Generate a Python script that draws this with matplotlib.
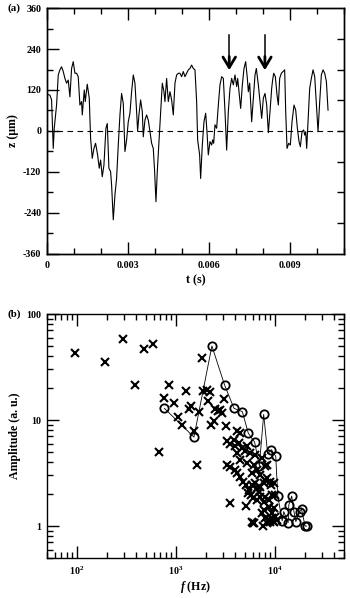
import numpy as np
import matplotlib
matplotlib.use("Agg")
import matplotlib.pyplot as plt
from matplotlib.ticker import MultipleLocator, FixedLocator, LogLocator, NullFormatter, FuncFormatter

plt.rcParams["font.family"] = ["Liberation Serif", "DejaVu Serif"]
plt.rcParams["font.weight"] = "bold"
plt.rcParams["axes.labelweight"] = "bold"
plt.rcParams["axes.unicode_minus"] = False
plt.rcParams["mathtext.fontset"] = "custom"
plt.rcParams["mathtext.rm"] = "Liberation Serif:bold"
plt.rcParams["mathtext.bf"] = "Liberation Serif:bold"
plt.rcParams["mathtext.it"] = "Liberation Serif:italic:bold"

# ---- (a) surface height record ----
t_ms = [0.025, 0.111, 0.173, 0.235, 0.272, 0.358, 0.420, 0.481, 0.543, 0.605,
        0.667, 0.728, 0.790, 0.852, 0.914, 0.975, 1.037, 1.099, 1.160, 1.222,
        1.284, 1.309, 1.383, 1.420, 1.494, 1.568, 1.617, 1.679, 1.741, 1.802,
        1.877, 1.938, 1.988, 2.049, 2.111, 2.185, 2.235, 2.296, 2.358, 2.395,
        2.457, 2.519, 2.580, 2.642, 2.704, 2.765, 2.827, 2.889, 2.951, 3.012,
        3.074, 3.136, 3.198, 3.259, 3.321, 3.358, 3.407, 3.469, 3.531, 3.568,
        3.630, 3.691, 3.753, 3.815, 3.877, 3.938, 3.988, 4.037, 4.086, 4.148,
        4.210, 4.272, 4.333, 4.370, 4.432, 4.494, 4.556, 4.617, 4.679, 4.741,
        4.802, 4.864, 4.926, 4.988, 5.049, 5.111, 5.173, 5.235, 5.296, 5.358,
        5.420, 5.481, 5.543, 5.580, 5.654, 5.691, 5.753, 5.815, 5.877, 5.926,
        5.975, 6.037, 6.099, 6.136, 6.173, 6.222, 6.284, 6.346, 6.407, 6.469,
        6.531, 6.593, 6.654, 6.716, 6.778, 6.840, 6.901, 6.963, 7.025, 7.062,
        7.111, 7.173, 7.235, 7.296, 7.358, 7.420, 7.457, 7.506, 7.580, 7.642,
        7.704, 7.753, 7.827, 7.889, 7.951, 8.012, 8.074, 8.136, 8.198, 8.259,
        8.321, 8.358, 8.395, 8.457, 8.519, 8.568, 8.617, 8.679, 8.741, 8.802,
        8.840, 8.889, 8.951, 9.012, 9.074, 9.148, 9.210, 9.272, 9.333, 9.383,
        9.444, 9.506, 9.543, 9.580, 9.617, 9.667, 9.728, 9.790, 9.852, 9.914,
        9.975, 10.037, 10.099, 10.160, 10.222, 10.284, 10.346, 10.407]
z_um = [107, 105, 91, -51, 8, 76, 164, 179, 188, 174,
        154, 140, 149, 100, 183, 203, 169, 169, 159, 76,
        86, 47, 120, 86, 137, 96, -21, -80, -51, -36,
        -70, -109, -85, -134, -100, 8, 22, -109, -119, -158,
        -260, -187, -139, -41, 47, 110, 81, -60, -26, 27,
        52, 115, 164, 140, 57, 0, 47, 91, 57, -17,
        32, 47, 32, -2, -36, -51, -119, -207, -119, -31,
        57, 140, 115, 86, 154, 86, 115, 91, 47, 140,
        164, 169, 169, 159, 174, 159, 169, 179, 183, 193,
        183, 179, 86, -26, -70, -139, -41, 27, 52, -2,
        -70, -31, -41, -26, -36, 18, 8, 76, 135, 159,
        154, 57, -56, 57, 125, 154, 135, 164, 130, 154,
        115, 66, 135, 183, 203, 154, 115, 140, 27, 96,
        164, 183, 135, 86, 37, 96, 110, 76, -5, 57,
        125, 150, 169, 159, 105, 76, 154, 169, 174, 179,
        57, -51, -36, -41, 27, 76, 61, 8, -31, -46,
        -2, 3, -12, -2, -51, 27, 125, 154, 179, 159,
        81, -2, 86, 164, 179, 169, 145, 61]
arrow_t_ms = [6.75, 8.07]
arrow_top_um = 282
arrow_tip_um = 178

# ---- (b) spectral amplitudes ----
cross_f = [97, 192, 290, 387, 481, 585, 678, 760, 861, 961,
           1062, 1150, 1282, 1365, 1430, 1525, 1644, 1722, 1834, 1905,
           2057, 2223, 2140, 2265, 2405, 2500, 2650, 2800, 2925, 3090,
           3236, 3290, 3550, 3840, 3965, 4300, 4120, 4480, 4660, 5040,
           5240, 5660, 6350, 7430, 8040, 8360, 6620, 5890, 7150, 4480,
           5240, 6100, 4120, 3290, 3550, 3965, 4120, 4400, 4810, 5150,
           5440, 5310, 5750, 6030, 6620, 7150, 6870, 7720, 8040, 8880,
           8360, 9160, 6620, 7150, 9750, 6350, 9380, 5890, 7720, 8680,
           8040, 3550, 5140, 6000, 6200, 7620, 8800, 9600, 8040, 8680,
           9380, 9010, 9750, 10140, 10540, 8360, 7430, 7720, 5890, 8680,
           9750, 9380, 10140]
cross_amp = [42.7, 35.6, 58, 21.4, 46.6, 52, 5.0, 16.1, 21.4, 14.5,
             10.7, 8.9, 18.8, 12.8, 13.7, 7.8, 3.8, 11.8, 38.8, 18.8,
             19.2, 18.4, 15.1, 8.9, 9.9, 12.6, 12.2, 12.4, 11.7, 15.9,
             8.8, 6.3, 5.9, 6.5, 5.65, 6.1, 7.8, 7.6, 5.45, 5.1,
             5.65, 4.9, 4.7, 4.4, 3.65, 3.8, 3.4, 3.15, 3.05, 4.2,
             3.9, 3.8, 4.9, 3.8, 3.6, 3.4, 3.16, 2.93, 2.63, 2.45,
             2.19, 2.04, 1.97, 1.83, 1.76, 1.90, 2.11, 2.54, 2.73, 2.63,
             2.83, 2.45, 2.28, 2.36, 2.54, 2.54, 1.97, 2.45, 1.70, 1.76,
             1.90, 1.64, 1.56, 1.08, 1.06, 1.0, 1.13, 1.12, 1.18, 1.14,
             1.18, 1.10, 1.10, 1.22, 1.14, 1.06, 1.32, 1.42, 1.10, 1.52,
             1.47, 1.32, 1.97]
circle_f = [768, 1525, 2317, 3110, 3870, 4700, 5400, 6250, 6980, 7720,
            8470, 9245, 10220, 10700, 11860, 12300, 13640, 13850, 14800, 15600,
            16300, 17800, 18600, 20200, 21000]
circle_amp = [12.9, 6.9, 50, 21.4, 12.9, 12.0, 7.5, 6.2, 3.7, 11.3,
              4.8, 5.25, 4.54, 1.94, 1.12, 1.37, 1.08, 1.58, 1.92, 1.37,
              1.10, 1.36, 1.45, 1.0, 1.0]

fig = plt.figure(figsize=(3.5, 5.98), dpi=100)
ax1 = fig.add_axes([0.134, 0.5753, 0.849, 0.4113])
ax2 = fig.add_axes([0.134, 0.0669, 0.849, 0.4080])

tick_fs = 7.2
label_fs = 8.6

# ---------- panel (a) ----------
t_s = np.array(t_ms) * 1e-3
ax1.plot(t_s, z_um, color="black", lw=0.8)
ax1.axhline(0, color="black", lw=0.8, ls=(0, (5, 4)))
for ta in arrow_t_ms:
    xa = ta * 1e-3
    ax1.plot([xa, xa], [arrow_top_um, arrow_tip_um + 10], color="black", lw=1.1)
    ax1.annotate("", xy=(xa, arrow_tip_um), xytext=(xa, arrow_tip_um + 40),
                 arrowprops=dict(arrowstyle="->,head_length=0.75,head_width=0.45",
                                 lw=2.0, color="black", shrinkA=0, shrinkB=0))

ax1.set_xlim(0, 0.011)
ax1.set_ylim(-360, 360)
ax1.xaxis.set_major_locator(MultipleLocator(0.003))
ax1.xaxis.set_minor_locator(MultipleLocator(0.001))
ax1.xaxis.set_major_formatter(FuncFormatter(lambda v, p: "0" if abs(v) < 1e-9 else f"{v:.3f}"))
ax1.yaxis.set_major_locator(MultipleLocator(120))
ax1.yaxis.set_minor_locator(MultipleLocator(60))
ax1.tick_params(which="both", direction="in", top=True, right=False,
                labelsize=tick_fs, width=1.0)
ax1.tick_params(which="major", length=8.5, pad=4)
ax1.tick_params(which="minor", length=4.5)
ax1.tick_params(axis="x", which="major", pad=5)
ax1.set_xlabel("t (s)", fontsize=label_fs, labelpad=3)
ax1.set_ylabel("z (\u03bcm)", fontsize=label_fs, labelpad=3)

ax1r = ax1.twinx()
ax1r.set_ylim(-360, 360)
ax1r.yaxis.set_major_locator(FixedLocator([-270, -180, -90, 0, 90, 180, 270]))
ax1r.tick_params(direction="in", length=5, width=1.0, labelright=False)
for a in (ax1, ax1r):
    for s in a.spines.values():
        s.set_linewidth(1.0)

fig.text(0.02, ax1.get_position().y1, "(a)", fontsize=tick_fs + 0.6,
         ha="left", va="center", weight="bold")

# ---------- panel (b) ----------
ax2.plot(circle_f, circle_amp, color="black", lw=0.6, marker="o", ms=6.0,
         mfc="none", mec="black", mew=1.3)
ax2.plot(cross_f, cross_amp, ls="none", marker="x", ms=5.8, mec="black", mew=1.5)

ax2.set_xscale("log")
ax2.set_yscale("log")
ax2.set_xlim(50, 50000)
ax2.set_ylim(0.5, 100)
ax2.xaxis.set_major_locator(LogLocator(base=10, numticks=10))
ax2.xaxis.set_minor_locator(LogLocator(base=10, subs=np.arange(2, 10), numticks=20))
ax2.xaxis.set_major_formatter(FuncFormatter(lambda v, p: r"$10^{%d}$" % round(np.log10(v))))
ax2.xaxis.set_minor_formatter(NullFormatter())
ax2.yaxis.set_major_locator(LogLocator(base=10, numticks=10))
ax2.yaxis.set_minor_locator(LogLocator(base=10, subs=np.arange(2, 10), numticks=20))
ax2.yaxis.set_major_formatter(FuncFormatter(lambda v, p: "%g" % v))
ax2.yaxis.set_minor_formatter(NullFormatter())
ax2.tick_params(which="both", direction="in", top=True, right=True,
                labelsize=tick_fs, width=1.0)
ax2.tick_params(which="major", length=8.5, pad=4)
ax2.tick_params(which="minor", length=4.5)
ax2.tick_params(axis="x", which="major", pad=5)
for s in ax2.spines.values():
    s.set_linewidth(1.0)
ax2.set_xlabel(r"$f$ (Hz)", fontsize=label_fs, labelpad=1.5)
ax2.set_ylabel("Amplitude (a. u.)", fontsize=label_fs, labelpad=4)

fig.text(0.02, ax2.get_position().y1, "(b)", fontsize=tick_fs + 0.6,
         ha="left", va="center", weight="bold")

fig.savefig("out.png", dpi=100)
